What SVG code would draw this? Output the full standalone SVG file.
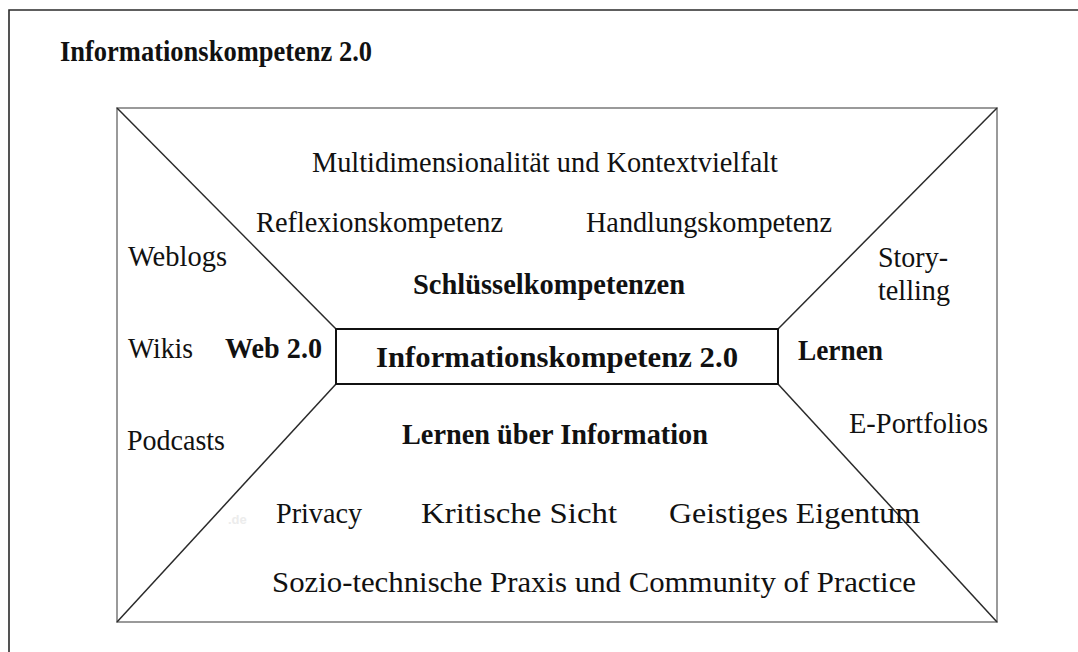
<svg xmlns="http://www.w3.org/2000/svg" width="1078" height="652" viewBox="0 0 1078 652">
  <style>
    .t { font-family: "Liberation Serif", "Times New Roman", serif; font-size: 30px; fill: #111; }
    .b { font-weight: bold; font-size: 29px; }
    .frame { fill: none; stroke: #2a2a2a; stroke-width: 1.6; }
    .outer { fill: none; stroke: #9a9a9a; stroke-width: 2; }
    .diag { stroke: #2a2a2a; stroke-width: 1.5; fill: none; }
    .core { fill: #fff; stroke: #111; stroke-width: 2; }
    .mark { font-family: "Liberation Sans", Arial, sans-serif; font-size: 13px; font-weight: bold; fill: #ececec; }
  </style>

  <rect width="1078" height="652" fill="#fff"/>

  <!-- page frame, open to the right and bottom -->
  <polyline class="frame" points="9,652 9,10 1078,10"/>

  <g id="heading">
    <text class="t b" x="60" y="61" font-size="27" textLength="312" lengthAdjust="spacingAndGlyphs">Informationskompetenz 2.0</text>
  </g>

  <!-- outer field -->
  <g id="field">
    <rect class="outer" x="117" y="108" width="880" height="514"/>
  </g>

  <!-- corner lines from the field to the core box -->
  <g id="connectors">
    <line class="diag" x1="117" y1="108" x2="336" y2="329"/>
    <line class="diag" x1="997" y1="108" x2="778" y2="329"/>
    <line class="diag" x1="117" y1="622" x2="336" y2="384"/>
    <line class="diag" x1="997" y1="622" x2="778" y2="384"/>
  </g>

  <g id="core">
    <rect class="core" x="336" y="329" width="442" height="55"/>
    <text class="t b" x="376" y="367" font-size="31" textLength="362" lengthAdjust="spacingAndGlyphs">Informationskompetenz 2.0</text>
  </g>

  <!-- top segment -->
  <g id="top">
    <text class="t" x="312" y="172" textLength="466" lengthAdjust="spacingAndGlyphs">Multidimensionalität und Kontextvielfalt</text>
    <text class="t" x="256" y="232" textLength="247" lengthAdjust="spacingAndGlyphs">Reflexionskompetenz</text>
    <text class="t" x="586" y="232" textLength="246" lengthAdjust="spacingAndGlyphs">Handlungskompetenz</text>
    <text class="t b" x="413" y="294" textLength="272" lengthAdjust="spacingAndGlyphs">Schlüsselkompetenzen</text>
  </g>

  <!-- left segment -->
  <g id="left">
    <text class="t" x="128" y="266" textLength="99" lengthAdjust="spacingAndGlyphs">Weblogs</text>
    <text class="t" x="128" y="358" textLength="65" lengthAdjust="spacingAndGlyphs">Wikis</text>
    <text class="t b" x="225" y="358" textLength="97" lengthAdjust="spacingAndGlyphs">Web 2.0</text>
    <text class="t" x="127" y="450" textLength="98" lengthAdjust="spacingAndGlyphs">Podcasts</text>
  </g>

  <!-- right segment -->
  <g id="right">
    <text class="t" x="878" y="267" textLength="70" lengthAdjust="spacingAndGlyphs">Story-</text>
    <text class="t" x="878" y="300" textLength="72" lengthAdjust="spacingAndGlyphs">telling</text>
    <text class="t b" x="798" y="360" textLength="85" lengthAdjust="spacingAndGlyphs">Lernen</text>
    <text class="t" x="849" y="433" textLength="139" lengthAdjust="spacingAndGlyphs">E-Portfolios</text>
  </g>

  <!-- bottom segment -->
  <g id="bottom">
    <text class="t b" x="402" y="444" textLength="306" lengthAdjust="spacingAndGlyphs">Lernen über Information</text>
    <text class="t" x="276" y="523" textLength="86" lengthAdjust="spacingAndGlyphs">Privacy</text>
    <text class="t" x="421" y="523" textLength="196" lengthAdjust="spacingAndGlyphs">Kritische Sicht</text>
    <text class="t" x="669" y="523" textLength="251" lengthAdjust="spacingAndGlyphs">Geistiges Eigentum</text>
    <text class="t" x="272" y="592" textLength="644" lengthAdjust="spacingAndGlyphs">Sozio-technische Praxis und Community of Practice</text>
    <text class="mark" x="228" y="524">.de</text>
  </g>
</svg>
